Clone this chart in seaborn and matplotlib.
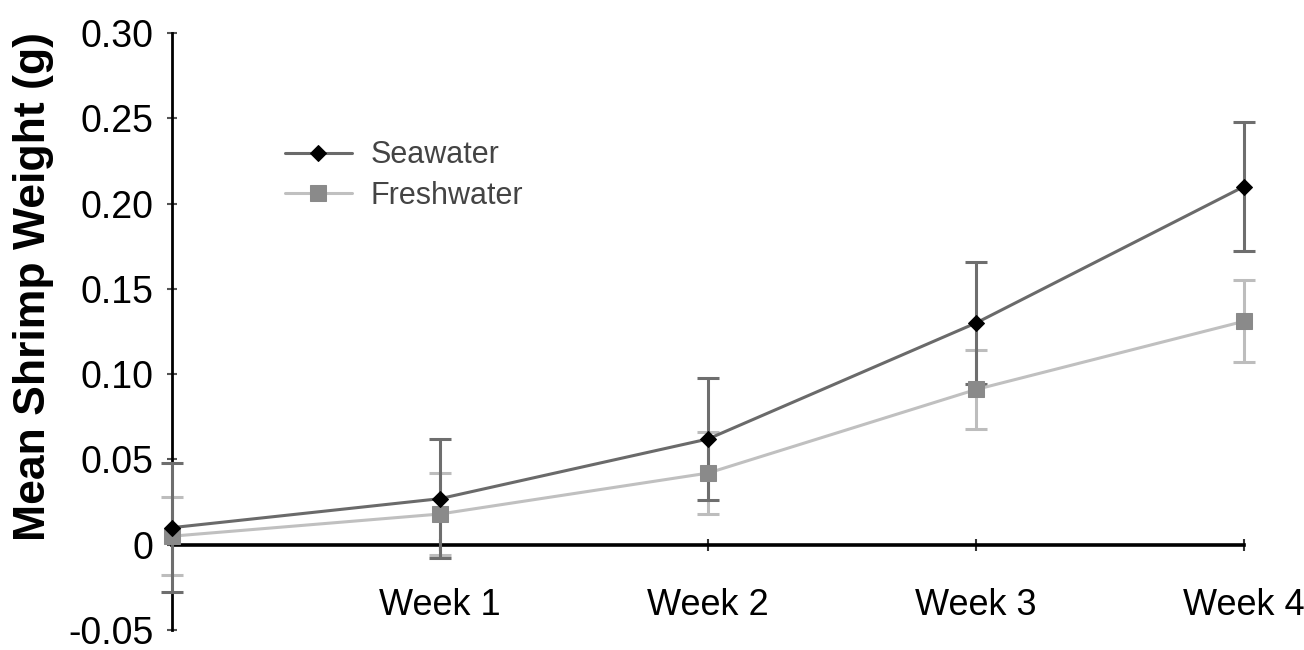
import numpy as np
import matplotlib
matplotlib.use("Agg")
import matplotlib.pyplot as plt
import seaborn as sns
import pandas as pd

weeks = [0, 1, 2, 3, 4]
week_labels = ["Week 1", "Week 2", "Week 3", "Week 4"]
seawater = [0.010, 0.027, 0.062, 0.130, 0.210]
seawater_err = [0.038, 0.035, 0.036, 0.036, 0.038]
freshwater = [0.005, 0.018, 0.042, 0.091, 0.131]
freshwater_err = [0.023, 0.024, 0.024, 0.023, 0.024]
yticks = [-0.05, 0, 0.05, 0.10, 0.15, 0.20, 0.25, 0.30]
ytick_labels = ["-0.05", "0", "0.05", "0.10", "0.15", "0.20", "0.25", "0.30"]

sns.set_style("white")
plt.rcParams['font.family'] = ['Liberation Sans', 'DejaVu Sans']
plt.rcParams['text.color'] = 'black'
plt.rcParams['xtick.labelcolor'] = 'black'
plt.rcParams['ytick.labelcolor'] = 'black'
plt.rcParams['axes.labelcolor'] = 'black'

df = pd.DataFrame({
    "week": weeks * 2,
    "weight": seawater + freshwater,
    "group": ["Seawater"] * 5 + ["Freshwater"] * 5,
})

fig = plt.figure(figsize=(13.04, 6.5), dpi=100)
ax = fig.add_axes([0.132, 0.0308, 0.822, 0.9184])

# error bars first so lines/markers sit on top
ax.errorbar(weeks, freshwater, yerr=freshwater_err, fmt='none', ecolor='#bdbdbd',
            elinewidth=2.2, capsize=8, capthick=2.2, clip_on=False, zorder=2)
ax.errorbar(weeks, seawater, yerr=seawater_err, fmt='none', ecolor='#6e6e6e',
            elinewidth=2.2, capsize=8, capthick=2.2, clip_on=False, zorder=3)

sw = df[df.group == "Seawater"]
fw = df[df.group == "Freshwater"]
sns.lineplot(data=fw, x="week", y="weight", ax=ax, color='#c0c0c0', linewidth=2.2,
             marker='s', markersize=11, markerfacecolor='#8a8a8a', markeredgecolor='#8a8a8a',
             label="Freshwater", clip_on=False, zorder=4)
sns.lineplot(data=sw, x="week", y="weight", ax=ax, color='#6a6a6a', linewidth=2.2,
             marker='D', markersize=8, markerfacecolor='black', markeredgecolor='black',
             label="Seawater", clip_on=False, zorder=5)

ax.set_xlim(0, 4)
ax.set_ylim(-0.05, 0.30)

ax.spines['top'].set_visible(False)
ax.spines['right'].set_visible(False)
ax.spines['bottom'].set_position(('data', 0))
ax.spines['bottom'].set_linewidth(2.6)
ax.spines['left'].set_linewidth(2.0)
ax.spines['bottom'].set_color('black')
ax.spines['left'].set_color('black')

ax.set_xticks([1, 2, 3, 4])
ax.set_xticklabels(week_labels)
ax.set_yticks(yticks)
ax.set_yticklabels(ytick_labels)
ax.tick_params(axis='x', direction='inout', length=9, width=1.5, color='#333333',
               pad=27, labelsize=26, bottom=True)
ax.tick_params(axis='y', direction='inout', length=7, width=1.5, color='#555555',
               pad=10, labelsize=27, left=True)
ax.set_xlabel("")
ax.set_ylabel("Mean Shrimp Weight (g)", fontsize=32, fontweight='bold')
ax.yaxis.set_label_coords(-0.11, 0.575)

handles, labels = ax.get_legend_handles_labels()
order = [labels.index("Seawater"), labels.index("Freshwater")]
leg = ax.legend([handles[i] for i in order], [labels[i] for i in order],
                loc='upper left', bbox_to_anchor=(0.105, 0.82), frameon=False,
                fontsize=22, handlelength=2.2, handletextpad=0.6, labelspacing=0.35,
                borderpad=0, borderaxespad=0)
for t in leg.get_texts():
    t.set_color('#444444')

plt.savefig('out.png', dpi=100)
